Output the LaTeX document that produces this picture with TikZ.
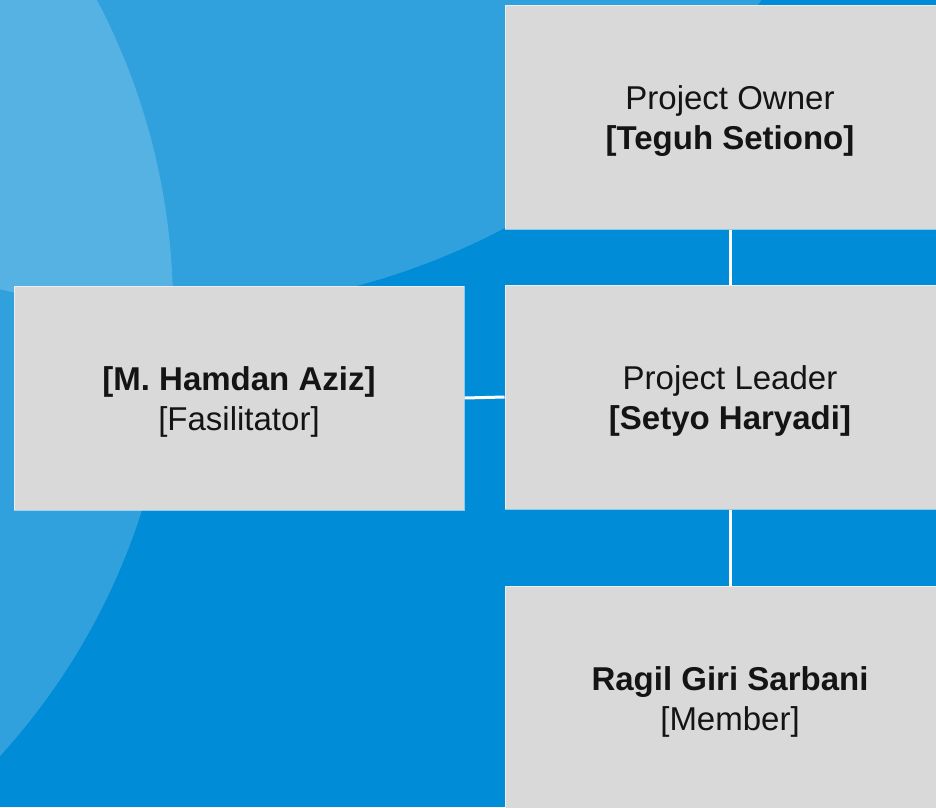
\documentclass[tikz,border=0pt]{standalone}
\usepackage{fontspec}
\setmainfont{Liberation Sans}
\definecolor{bluebase}{HTML}{008CD6}
\definecolor{boxgray}{HTML}{D9D9D9}
\definecolor{textdark}{HTML}{141414}
\begin{document}
\begin{tikzpicture}[x=1pt,y=-1pt,
  orgbox/.style={rectangle, fill=boxgray, draw=white, draw opacity=0.55,
    line width=1pt, minimum width=450pt, minimum height=224pt,
    inner sep=0pt},
  boxtext/.style={align=center, text=textdark, inner sep=0pt,
    yshift=-4pt, font=\fontsize{33}{40}\selectfont},
  link/.style={draw=white, line width=3pt},
  glow/.style={fill=white, fill opacity=0.19}]
\useasboundingbox (0,0) rectangle (936,807);
\begin{scope}
  \clip (0,0) rectangle (936,807);
  % background with two translucent discs
  \fill[bluebase] (0,0) rectangle (936,807);
  \fill[glow] (-491,309) circle[radius=664];
  \fill[glow] (172,-405) circle[radius=715];

  % organisation boxes
  \node[orgbox, label={[boxtext]center:Project Owner\\\textbf{[Teguh Setiono]}}]
    (owner) at (730,117) {};
  \node[orgbox, label={[boxtext]center:Project Leader\\\textbf{[Setyo Haryadi]}}]
    (leader) at (730,397) {};
  \node[orgbox, label={[boxtext]center:\textbf{Ragil Giri Sarbani}\\{}[Member]}]
    (member) at (730,698) {};
  \node[orgbox, label={[boxtext]center:\textbf{[M. Hamdan Aziz]}\\{}[Fasilitator]}]
    (facil) at (239,398) {};

  % connectors
  \draw[link] (owner.south) -- (leader.north);
  \draw[link] (leader.south) -- (member.north);
  \draw[link] (facil.east) -- (leader.west);
\end{scope}
\end{tikzpicture}
\end{document}
